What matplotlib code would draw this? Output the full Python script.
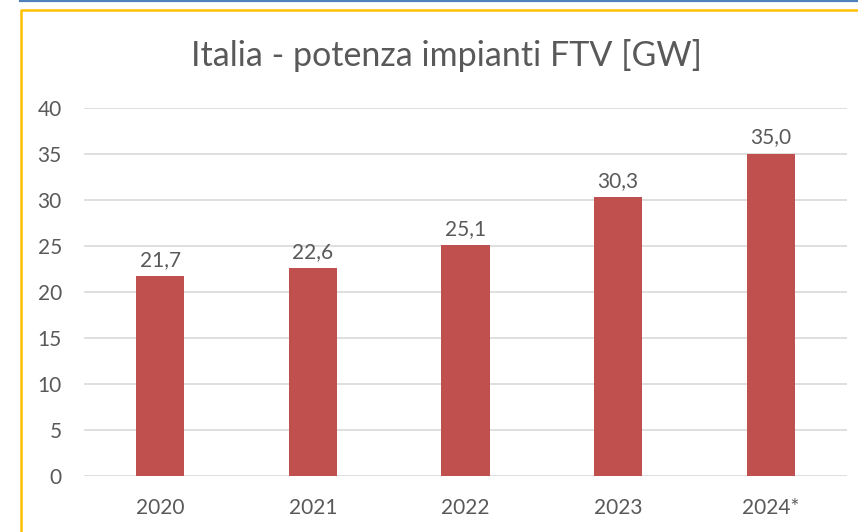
import matplotlib

matplotlib.use("Agg")
import matplotlib.pyplot as plt
from matplotlib.lines import Line2D

years = ["2020", "2021", "2022", "2023", "2024*"]
power_gw = [21.7, 22.6, 25.1, 30.3, 35.0]
y_ticks = [0, 5, 10, 15, 20, 25, 30, 35, 40]

W, H = 858, 532
plt.rcParams["font.family"] = ["Lato", "DejaVu Sans"]
text_color = "#595959"

fig = plt.figure(figsize=(W / 100, H / 100), dpi=100)
fig.patch.set_facecolor("white")

# frame decorations: blue rule on top, yellow chart border
fig.add_artist(Line2D([20 / W, 1], [1 - 1.2 / H] * 2, color="#4F81BD", lw=1.6, transform=fig.transFigure))
fig.add_artist(Line2D([20.5 / W, 20.5 / W, 1], [0, 1 - 9.8 / H, 1 - 9.8 / H], color="#FFC000", lw=1.8,
                      transform=fig.transFigure))

ax = fig.add_axes([84 / W, 1 - 476 / H, (847 - 84) / W, (476 - 108) / H])
x = list(range(len(years)))
ax.bar(x, power_gw, width=0.315, color="#C0504D", zorder=3)
for xi, v in zip(x, power_gw):
    ax.text(xi, v + 0.7, f"{v:.1f}".replace(".", ","), ha="center", va="bottom", fontsize=15, color=text_color)

ax.set_xlim(-0.5, len(years) - 0.5)
ax.set_ylim(0, 40)
ax.set_yticks(y_ticks)
ax.set_xticks(x)
ax.set_xticklabels(years)
ax.tick_params(axis="both", length=0, labelsize=15, labelcolor=text_color)
ax.tick_params(axis="y", pad=16)
ax.tick_params(axis="x", pad=16)
ax.grid(axis="y", color="#D9D9D9", lw=1.2, zorder=0)
for s in ax.spines.values():
    s.set_visible(False)

fig.text(446 / W, 1 - 56 / H, "Italia - potenza impianti FTV [GW]", ha="center", va="center", fontsize=24.5,
         color=text_color)

fig.savefig("out.png", dpi=100)
